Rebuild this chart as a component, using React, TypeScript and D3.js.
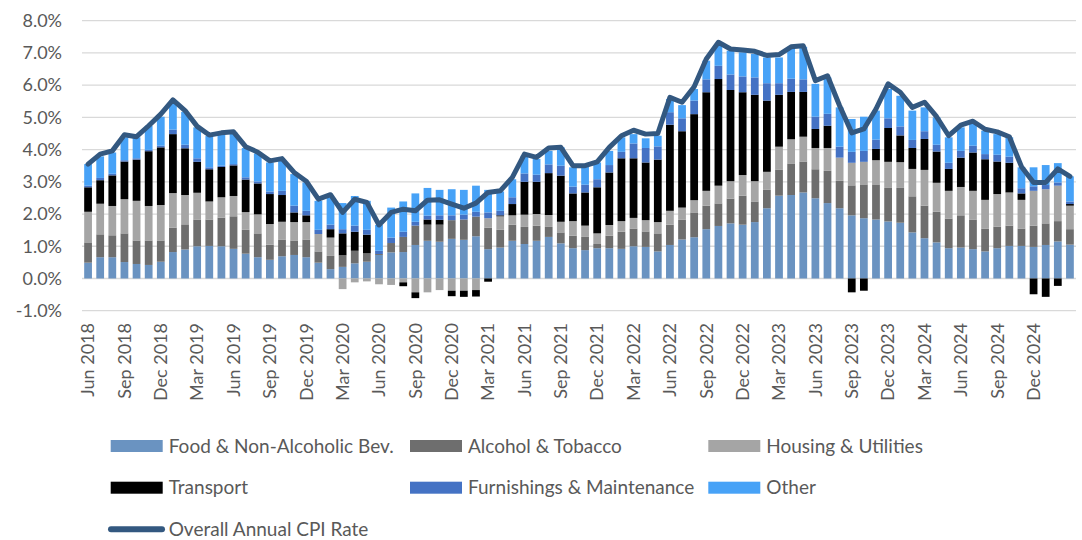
import React from "react";
import * as d3 from "d3";

const months = [
  "Jun 2018","Jul 2018","Aug 2018","Sep 2018","Oct 2018","Nov 2018","Dec 2018",
  "Jan 2019","Feb 2019","Mar 2019","Apr 2019","May 2019","Jun 2019","Jul 2019","Aug 2019","Sep 2019","Oct 2019","Nov 2019","Dec 2019",
  "Jan 2020","Feb 2020","Mar 2020","Apr 2020","May 2020","Jun 2020","Jul 2020","Aug 2020","Sep 2020","Oct 2020","Nov 2020","Dec 2020",
  "Jan 2021","Feb 2021","Mar 2021","Apr 2021","May 2021","Jun 2021","Jul 2021","Aug 2021","Sep 2021","Oct 2021","Nov 2021","Dec 2021",
  "Jan 2022","Feb 2022","Mar 2022","Apr 2022","May 2022","Jun 2022","Jul 2022","Aug 2022","Sep 2022","Oct 2022","Nov 2022","Dec 2022",
  "Jan 2023","Feb 2023","Mar 2023","Apr 2023","May 2023","Jun 2023","Jul 2023","Aug 2023","Sep 2023","Oct 2023","Nov 2023","Dec 2023",
  "Jan 2024","Feb 2024","Mar 2024","Apr 2024","May 2024","Jun 2024","Jul 2024","Aug 2024","Sep 2024","Oct 2024","Nov 2024","Dec 2024",
  "Jan 2025","Feb 2025","Mar 2025",
];

const tickLabels = [
  "Jun 2018","Sep 2018","Dec 2018","Mar 2019","Jun 2019","Sep 2019","Dec 2019",
  "Mar 2020","Jun 2020","Sep 2020","Dec 2020","Mar 2021","Jun 2021","Sep 2021","Dec 2021",
  "Mar 2022","Jun 2022","Sep 2022","Dec 2022","Mar 2023","Jun 2023","Sep 2023","Dec 2023",
  "Mar 2024","Jun 2024","Sep 2024","Dec 2024",
];

const food = [
  0.49,0.66,0.66,0.51,0.45,0.42,0.52,
  0.82,0.90,1.00,1.01,1.00,0.92,0.77,0.66,0.58,0.69,0.73,0.66,
  0.49,0.29,0.36,0.47,0.52,0.73,0.81,0.82,1.04,1.17,1.14,1.23,
  1.20,1.31,0.91,0.96,1.17,1.07,1.17,1.29,1.09,0.94,0.88,0.94,
  0.94,0.92,1.00,0.98,0.84,1.04,1.21,1.28,1.53,1.63,1.71,1.67,
  1.75,2.18,2.57,2.59,2.67,2.49,2.34,2.18,1.96,1.87,1.83,1.77,
  1.73,1.43,1.25,1.12,0.94,0.96,0.91,0.84,0.94,1.01,1.01,0.98,
  1.04,1.15,1.05,
];
const alcohol = [
  0.63,0.71,0.68,0.89,0.73,0.76,0.66,
  0.76,0.78,0.83,0.82,0.89,1.01,0.74,0.74,0.47,0.52,0.45,0.55,
  0.35,0.41,0.36,0.39,0.26,0.03,0.29,0.47,0.60,0.50,0.53,0.58,
  0.63,0.61,0.67,0.55,0.50,0.53,0.47,0.31,0.34,0.39,0.41,0.13,
  0.39,0.53,0.55,0.48,0.56,0.63,0.61,0.77,0.73,0.70,0.77,0.90,
  0.64,0.57,0.80,0.98,0.96,0.90,1.00,0.85,0.93,1.05,1.09,1.04,
  1.08,1.12,1.01,0.95,0.92,1.00,0.92,0.71,0.67,0.63,0.54,0.66,
  0.67,0.63,0.48,
];
const housing = [
  0.95,0.95,0.91,1.06,1.23,1.07,1.10,
  1.07,0.91,0.83,0.56,0.63,0.63,0.55,0.59,0.64,0.55,0.57,0.54,
  0.54,0.57,-0.33,-0.12,-0.09,-0.18,-0.20,-0.12,-0.43,-0.43,-0.36,-0.38,
  -0.38,-0.36,0.29,0.42,0.29,0.38,0.36,0.37,0.33,0.45,0.35,0.33,
  0.33,0.33,0.33,0.35,0.35,0.43,0.38,0.38,0.46,0.55,0.54,0.64,
  0.63,0.56,0.72,0.75,0.77,0.66,0.71,0.72,0.70,0.70,0.75,0.81,
  0.80,0.85,1.11,0.90,0.86,0.88,0.89,0.89,1.01,1.03,0.89,1.08,
  1.06,1.10,0.73,
];
const transport = [
  0.76,0.73,0.95,1.17,1.28,1.70,1.79,
  1.83,1.45,0.96,1.00,0.94,0.95,1.01,0.96,0.93,0.83,0.30,0.21,
  0.00,0.26,0.68,0.59,0.58,0.00,0.00,-0.12,-0.18,0.16,0.15,-0.17,
  -0.19,-0.20,-0.10,0.03,0.35,1.02,1.00,1.30,1.43,0.86,1.03,1.43,
  1.63,1.95,1.85,1.79,1.94,2.67,2.37,2.67,3.06,3.31,2.83,2.57,
  2.68,2.21,1.61,1.47,1.39,0.59,0.69,0.00,-0.43,-0.38,0.35,1.05,
  0.83,0.65,0.96,0.97,0.68,0.91,1.19,1.26,1.01,0.92,0.20,-0.49,
  -0.57,-0.23,0.05,
];
const furnishings = [
  0.05,0.07,0.05,0.04,0.04,0.04,0.05,
  0.14,0.11,0.11,0.06,0.04,0.04,0.07,0.06,0.08,0.13,0.21,0.14,
  0.13,0.14,0.13,0.19,0.15,0.10,0.17,0.16,0.12,0.12,0.14,0.15,
  0.15,0.15,0.18,0.14,0.21,0.26,0.22,0.27,0.31,0.21,0.24,0.25,
  0.23,0.20,0.46,0.45,0.41,0.39,0.40,0.42,0.40,0.41,0.48,0.49,
  0.54,0.54,0.36,0.41,0.39,0.38,0.37,0.34,0.34,0.34,0.29,0.30,
  0.28,0.25,0.24,0.21,0.19,0.21,0.21,0.16,0.21,0.19,0.16,0.14,
  0.13,0.10,0.08,
];
const other = [
  0.67,0.67,0.66,0.71,0.65,0.75,0.90,
  0.88,1.02,0.96,0.97,0.98,0.98,0.91,0.87,0.90,0.95,0.98,0.88,
  0.90,0.85,0.81,0.92,0.90,0.80,0.93,0.94,0.88,0.86,0.79,0.81,
  0.77,0.81,0.70,0.60,0.56,0.55,0.49,0.42,0.57,0.60,0.57,0.52,
  0.44,0.45,0.29,0.30,0.33,0.41,0.41,0.36,0.58,0.63,0.74,0.75,
  0.73,0.80,0.80,0.99,1.01,1.02,1.13,1.22,1.02,1.06,0.90,0.91,
  0.95,0.91,0.74,0.85,0.79,0.73,0.72,0.73,0.64,0.60,0.65,0.59,
  0.62,0.60,0.78,
];
const overallCPI = [
  3.55,3.86,3.96,4.46,4.40,4.74,5.10,
  5.54,5.21,4.72,4.45,4.52,4.55,4.09,3.92,3.65,3.72,3.29,3.02,
  2.46,2.60,2.05,2.46,2.36,1.66,2.05,2.15,2.10,2.43,2.44,2.31,
  2.18,2.34,2.67,2.72,3.14,3.86,3.76,4.05,4.07,3.50,3.50,3.62,
  4.07,4.43,4.60,4.48,4.50,5.62,5.47,5.95,6.81,7.33,7.12,7.09,
  7.05,6.92,6.95,7.19,7.22,6.14,6.29,5.36,4.52,4.64,5.26,6.04,
  5.78,5.31,5.47,5.02,4.43,4.76,4.88,4.63,4.55,4.40,3.47,2.98,
  2.98,3.40,3.17,
];

const seriesNames = [
  "Food & Non-Alcoholic Bev.",
  "Alcohol & Tobacco",
  "Housing & Utilities",
  "Transport",
  "Furnishings & Maintenance",
  "Other",
];
const lineName = "Overall Annual CPI Rate";
const yTicks = [-1, 0, 1, 2, 3, 4, 5, 6, 7, 8];

const colors = ["#6A93C1", "#6E6E6E", "#A5A5A5", "#000000", "#4472C4", "#47A2F7"];
const lineColor = "#335880";
const textColor = "#595959";
const font = "Lato, 'Open Sans', sans-serif";

export default function App() {
  const W = 1082, H = 540;
  const left = 82, right = 1076, top = 20.7, bottom = 310.7;
  const seriesData = [food, alcohol, housing, transport, furnishings, other];
  const rows = months.map((m, i) => {
    const r: any = { month: m };
    seriesNames.forEach((s, k) => (r[s] = seriesData[k][i]));
    return r;
  });
  const stacked = d3.stack<any>().keys(seriesNames).offset(d3.stackOffsetDiverging)(rows);

  const x = d3.scaleBand<string>().domain(months).range([left, right]).paddingInner(0.36).paddingOuter(0.18);
  const y = d3.scaleLinear().domain([-1, 8]).range([bottom, top]);

  const line = d3
    .line<number>()
    .x((_, i) => (x(months[i]) as number) + x.bandwidth() / 2)
    .y((d) => y(d));

  const legendCols = [110.7, 410, 708.3];
  const legendRows = [446, 487.7, 529.3];

  return (
    <svg width={W} height={H} style={{ position: "absolute", left: 0, top: 0, display: "block", background: "#fff" }} fontFamily={font}>
      {yTicks.map((t) => (
        <line key={t} x1={left} x2={right} y1={y(t)} y2={y(t)} stroke="#D9D9D9" strokeWidth={1.3} />
      ))}
      {stacked.map((s, k) => (
        <g key={s.key} fill={colors[k]}>
          {s.map((d, i) => {
            const y0 = y(d[0]), y1 = y(d[1]);
            const h = Math.abs(y0 - y1);
            if (h < 0.01) return null;
            return <rect key={i} x={x(months[i])} width={x.bandwidth()} y={Math.min(y0, y1)} height={h} />;
          })}
        </g>
      ))}
      <path d={line(overallCPI) || ""} fill="none" stroke={lineColor} strokeWidth={5} strokeLinejoin="round" strokeLinecap="round" />
      {yTicks.map((t) => (
        <text key={t} x={62} y={y(t)} dy="0.35em" textAnchor="end" fontSize={18} fill={textColor}>
          {t.toFixed(1) + "%"}
        </text>
      ))}
      {tickLabels.map((m) => (
        <text
          key={m}
          transform={`translate(${(x(m) as number) + x.bandwidth() / 2},323) rotate(-90)`}
          dy="0.35em"
          textAnchor="end"
          fontSize={18}
          fill={textColor}
        >
          {m}
        </text>
      ))}
      {seriesNames.map((s, k) => {
        const cx = legendCols[k % 3];
        const cy = legendRows[Math.floor(k / 3)];
        return (
          <g key={s}>
            <rect x={cx} y={cy - 6} width={52} height={12} fill={colors[k]} />
            <text x={cx + 58} y={cy} dy="0.35em" fontSize={19} fill={textColor}>
              {s}
            </text>
          </g>
        );
      })}
      <g>
        <line x1={111} x2={162} y1={legendRows[2]} y2={legendRows[2]} stroke={lineColor} strokeWidth={6} strokeLinecap="round" />
        <text x={168.7} y={legendRows[2]} dy="0.35em" fontSize={19} fill={textColor}>
          {lineName}
        </text>
      </g>
    </svg>
  );
}
